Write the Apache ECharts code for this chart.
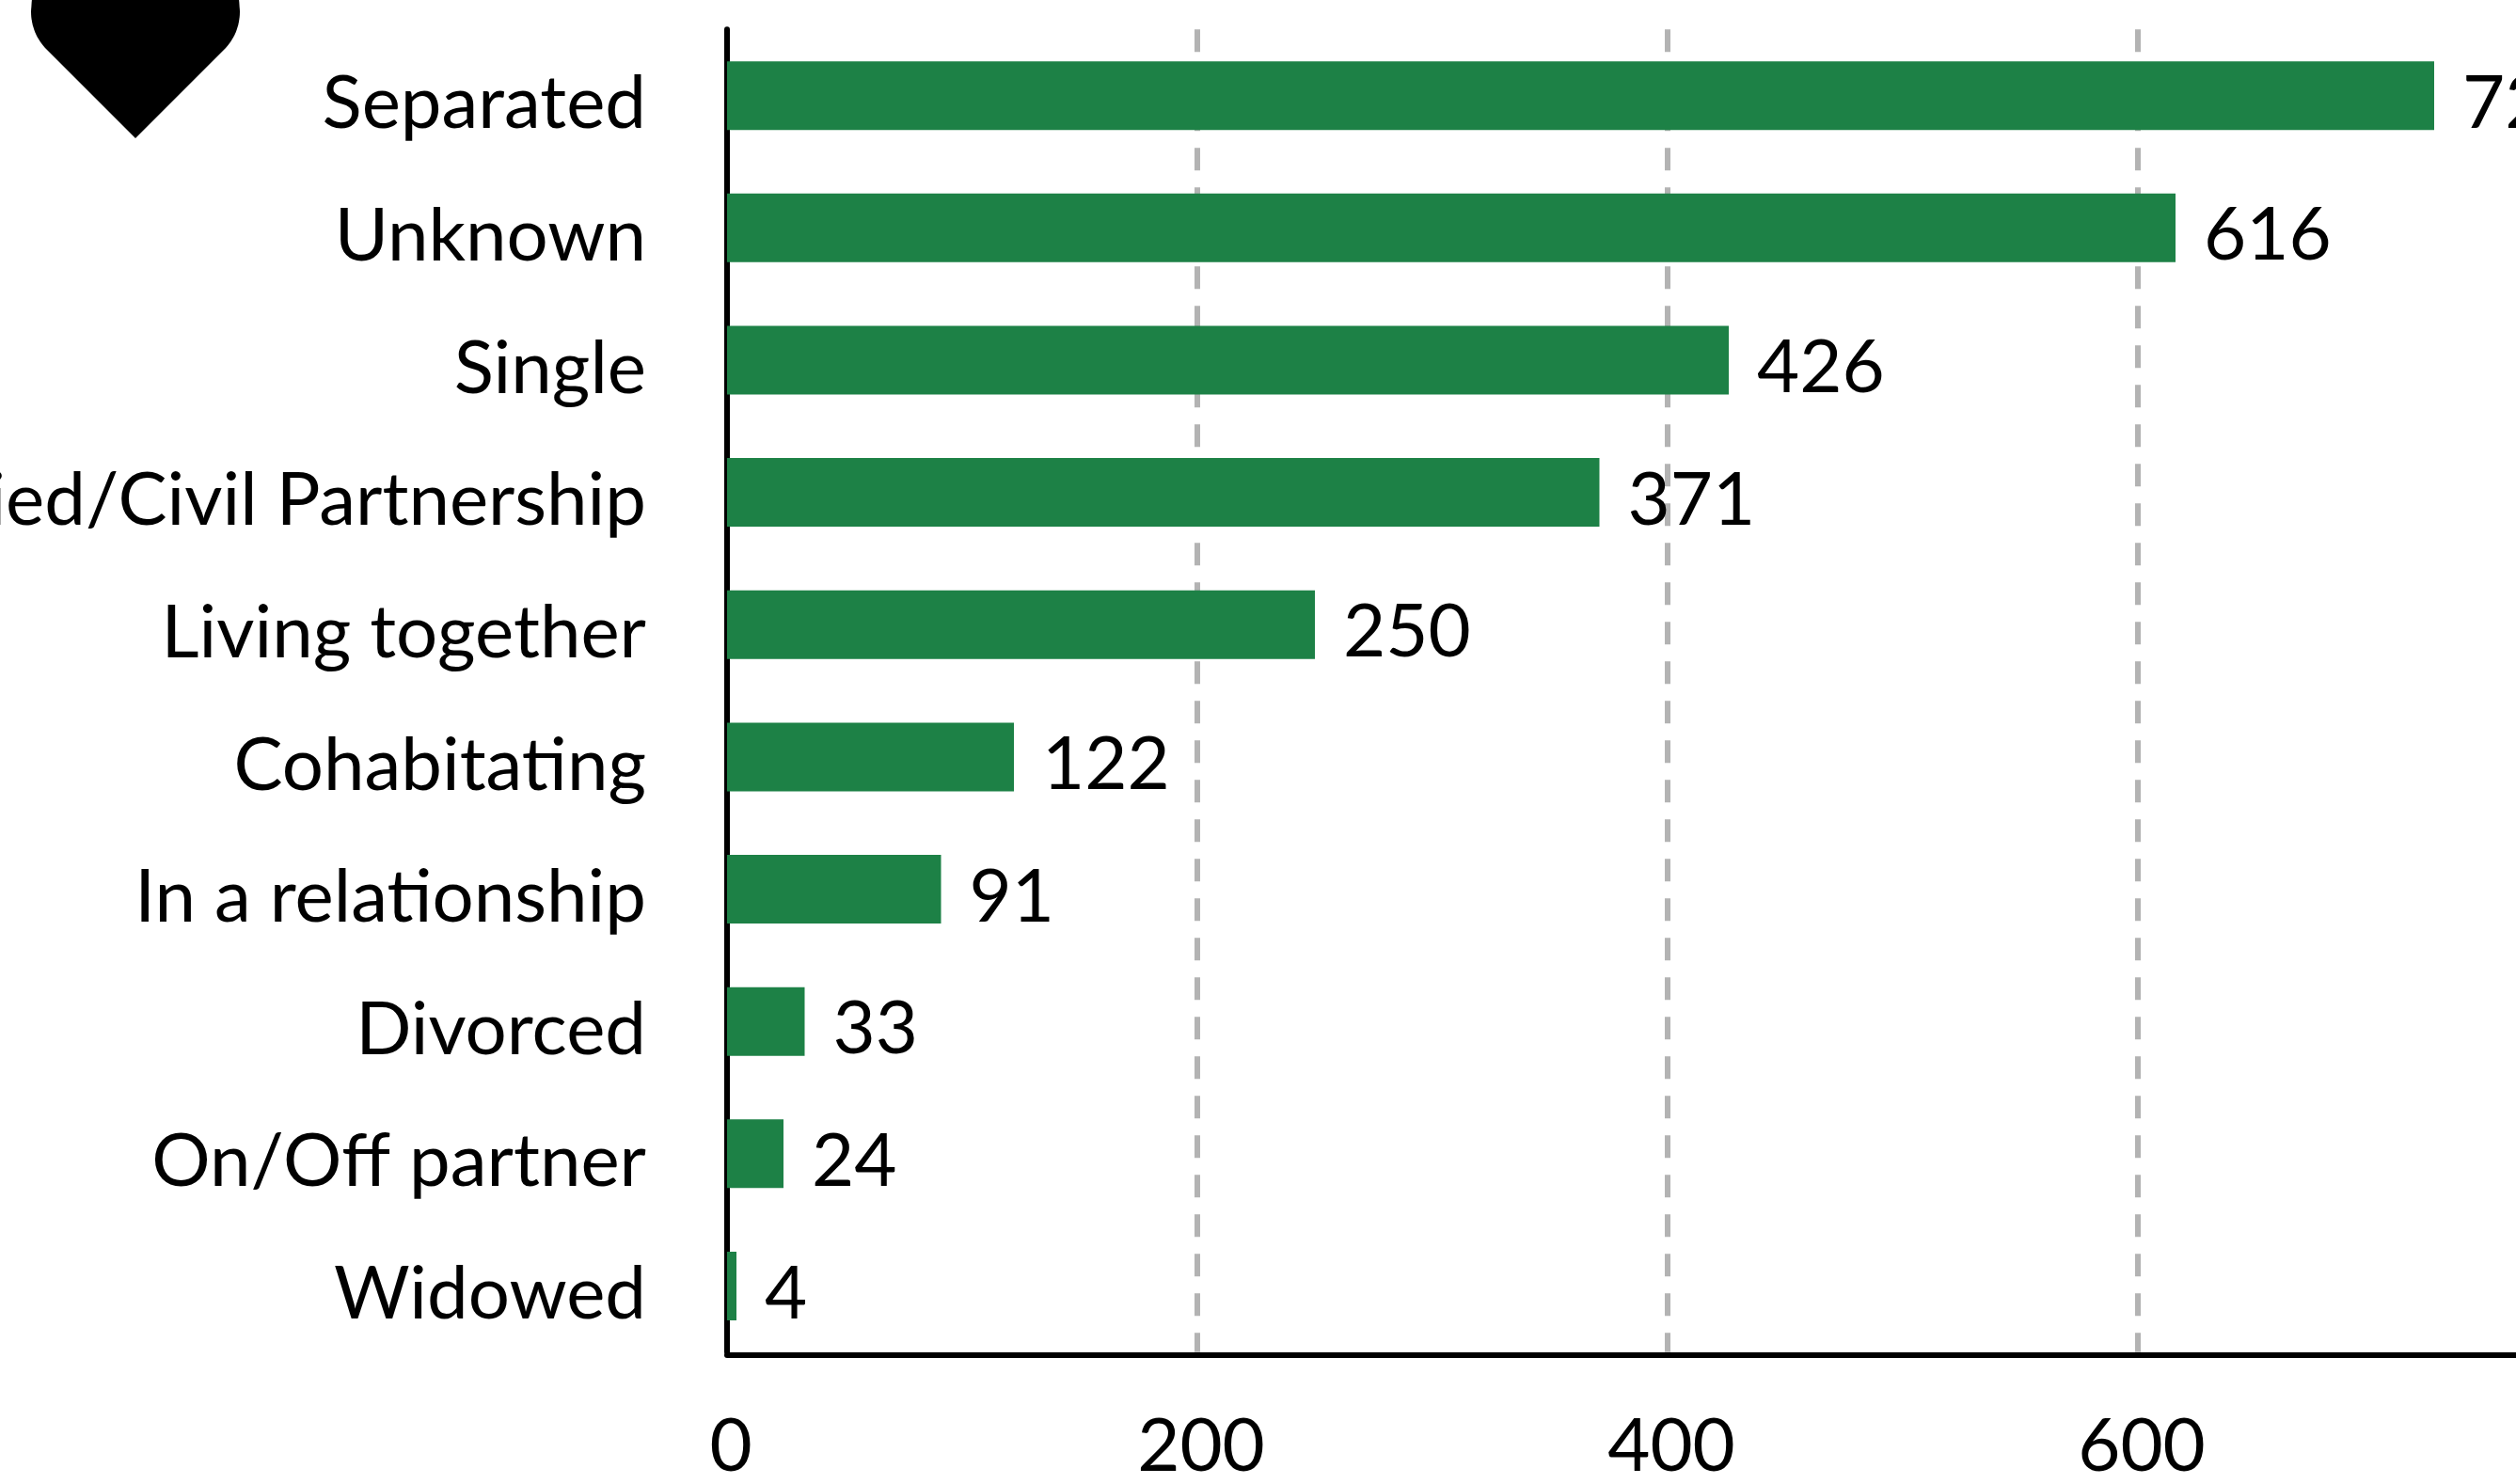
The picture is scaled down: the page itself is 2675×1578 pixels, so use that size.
<!DOCTYPE html>
<html><head><meta charset="utf-8">
<style>html,body{margin:0;padding:0;background:#fff}#c{width:2675px;height:1578px}</style>
<script src="https://cdn.jsdelivr.net/npm/echarts@6/dist/echarts.min.js"></script>
</head><body><div id="c"></div>
<script>
const categories = ['Separated','Unknown','Single','Married/Civil Partnership','Living together','Cohabitating','In a relationship','Divorced','On/Off partner','Widowed'];
const values = [726,616,426,371,250,122,91,33,24,4];
const xTicks = [0,200,400,600,800];
const chart = echarts.init(document.getElementById('c'), null, {renderer:'canvas'});
const font = 'Lato';
// Decorative heart, cut off by the top of the picture
function bez(p0,p1,p2,p3,n){const o=[];for(let i=0;i<=n;i++){const t=i/n,u=1-t;
  o.push([u*u*u*p0[0]+3*u*u*t*p1[0]+3*u*t*t*p2[0]+t*t*t*p3[0],u*u*u*p0[1]+3*u*u*t*p1[1]+3*u*t*t*p2[1]+t*t*t*p3[1]]);}return o;}
const heart=[[144,147],...bez([50,53],[39,42],[33,28],[33,12],16),[34,-2],[254,-2],...bez([255,12],[255,28],[249,42],[238,53],16)];
chart.setOption({
  animation:false,
  backgroundColor:'#fff',
  grid:{left:773,top:31.3,width:2000,height:1406.5,containLabel:false,outerBoundsMode:'none'},
  xAxis:{type:'value',min:xTicks[0],max:xTicks[xTicks.length-1],interval:200,offset:3,
    axisLine:{show:true,onZero:false,lineStyle:{color:'#000',width:6}},
    axisTick:{show:false},
    axisLabel:{fontFamily:font,fontSize:78,color:'#000',margin:59,hideOverlap:false,padding:[0,0,0,8]},
    splitLine:{show:true,lineStyle:{color:'#b3b3b3',width:6,type:[24,18]}}
  },
  yAxis:{type:'category',inverse:true,data:categories,
    axisLine:{show:true,lineStyle:{color:'#000',width:6}},
    axisTick:{show:false},
    axisLabel:{fontFamily:font,fontSize:78,color:'#000',margin:86,align:'right',verticalAlign:'top',lineHeight:19,interval:0,hideOverlap:false},
    splitLine:{show:false}
  },
  series:[{type:'bar',data:values,barWidth:73,
    itemStyle:{color:'#1d8146'},
    label:{show:true,position:'right',distance:30,offset:[0,9],fontFamily:font,fontSize:78,color:'#000'},
    z:3
  }],
  graphic:[{type:'polygon',silent:true,shape:{points:heart},style:{fill:'#000'}}]
});
</script></body></html>
